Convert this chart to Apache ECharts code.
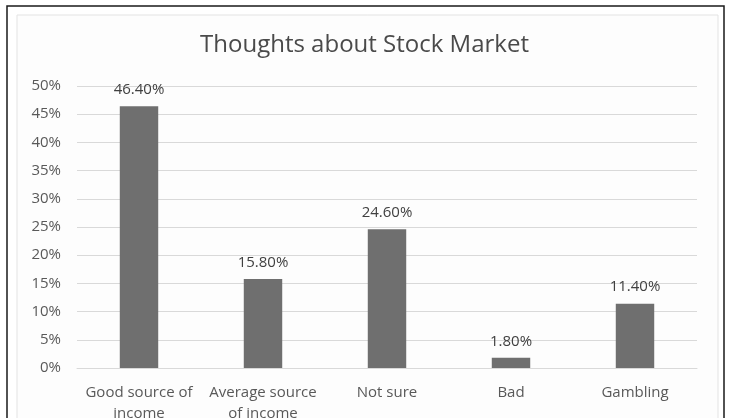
<!DOCTYPE html>
<html>
<head>
<meta charset="utf-8">
<script src="https://cdn.jsdelivr.net/npm/echarts@6/dist/echarts.min.js"></script>
<style>
  html, body { margin: 0; padding: 0; background: #ffffff; }
  #chart { width: 729px; height: 418px; }
</style>
</head>
<body>
<div id="chart"></div>
<script>
// Survey answers, share of respondents in percent
const categories = [
  'Good source of\nincome',
  'Average source\nof income',
  'Not sure',
  'Bad',
  'Gambling'
];
const shares = [46.4, 15.8, 24.6, 1.8, 11.4];
const yTicks = { min: 0, max: 50, step: 5 };

const font = '"Open Sans", "Liberation Sans", sans-serif';
const chart = echarts.init(document.getElementById('chart'), null, { renderer: 'canvas' });

chart.setOption({
  animation: false,
  backgroundColor: '#ffffff',
  title: {
    text: 'Thoughts about Stock Market',
    left: 'center',
    top: 28,
    textStyle: { fontFamily: font, fontSize: 24, fontWeight: 'normal', color: '#4a4a4a' }
  },
  graphic: [
    {
      type: 'rect', silent: true, z: -1,
      shape: { x: 7, y: 6, width: 717, height: 430 },
      style: { fill: 'none', stroke: '#1a1a1a', lineWidth: 1.5 }
    },
    {
      type: 'rect', silent: true, z: -1,
      shape: { x: 17, y: 15, width: 701, height: 420 },
      style: { fill: '#fdfdfd', stroke: '#e3e3e3', lineWidth: 1 }
    }
  ],
  grid: { left: 77, right: 32, top: 86, bottom: 50, containLabel: false, outerBoundsMode: 'none' },
  xAxis: {
    type: 'category',
    data: categories,
    axisLine: { lineStyle: { color: '#d9d9d9', width: 1 } },
    axisTick: { show: false },
    axisLabel: {
      interval: 0,
      margin: 14,
      lineHeight: 21,
      fontFamily: font,
      fontSize: 15,
      color: '#595959'
    }
  },
  yAxis: {
    type: 'value',
    min: yTicks.min,
    max: yTicks.max,
    interval: yTicks.step,
    axisLine: { show: false },
    axisTick: { show: false },
    splitLine: { lineStyle: { color: '#d9d9d9', width: 1 } },
    axisLabel: {
      margin: 16,
      fontFamily: font,
      fontSize: 15,
      color: '#595959',
      formatter: '{value}%'
    }
  },
  series: [{
    type: 'bar',
    data: shares,
    barWidth: '31%',
    itemStyle: { color: '#6f6f6f' },
    label: {
      show: true,
      position: 'top',
      distance: 9,
      fontFamily: font,
      fontSize: 15,
      color: '#404040',
      formatter: p => p.value.toFixed(2) + '%'
    }
  }]
});
</script>
</body>
</html>
